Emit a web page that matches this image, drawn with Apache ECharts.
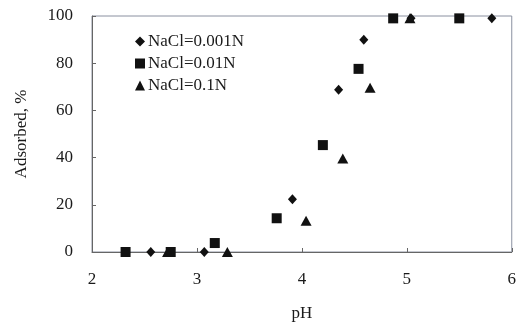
<!DOCTYPE html>
<html><head><meta charset="utf-8">
<script src="https://cdn.jsdelivr.net/npm/echarts@6/dist/echarts.min.js"></script>
<style>html,body{margin:0;padding:0;background:#fff}#c{width:519px;height:327px}</style>
</head><body><div id="c"></div>
<script>
const seriesNames = ['NaCl=0.001N', 'NaCl=0.01N', 'NaCl=0.1N'];
const ph001 = [2.56, 3.07, 3.91, 4.35, 4.59, 5.04, 5.81];
const ads001 = [0, 0, 22.4, 68.8, 89.9, 99, 99];
const ph01 = [2.32, 2.75, 3.17, 3.76, 4.20, 4.54, 4.87, 5.50];
const ads01 = [0, 0, 3.8, 14.3, 45.3, 77.6, 99, 99];
const ph1 = [2.72, 3.29, 4.04, 4.39, 4.65, 5.03];
const ads1 = [0, 0, 13.2, 39.6, 69.6, 99];
const xTicks = [2, 3, 4, 5, 6];
const yTicks = [0, 20, 40, 60, 80, 100];

const pair = (xs, ys) => xs.map((x, i) => [x, ys[i]]);
const font = '"Liberation Serif", "Times New Roman", serif';
const black = '#111';
const symbols = ['diamond', 'rect', 'triangle'];
const sizes = [[9, 10], [10, 10], [11, 10]];
const datas = [pair(ph001, ads001), pair(ph01, ads01), pair(ph1, ads1)];

const chart = echarts.init(document.getElementById('c'), null, {renderer: 'canvas'});
chart.setOption({
  animation: false,
  backgroundColor: '#fff',
  grid: {left: 92, right: 2, top: 16, bottom: 74, show: true, borderColor: '#8a90a0', borderWidth: 1},
  legend: {
    orient: 'vertical', left: 130, top: 28, itemWidth: 10, itemHeight: 10, itemGap: 5,
    textStyle: {fontFamily: font, fontSize: 17, color: '#1a1a1a', lineHeight: 16, padding: [0, 0, 0, -2]},
    data: seriesNames.map((n, i) => ({name: n, icon: symbols[i]}))
  },
  xAxis: {
    type: 'value', min: xTicks[0], max: xTicks[xTicks.length - 1], interval: 1,
    name: 'pH', nameLocation: 'middle', nameGap: 53,
    nameTextStyle: {fontFamily: font, fontSize: 17, color: '#1a1a1a'},
    axisLine: {show: true, lineStyle: {color: '#666', width: 1}},
    axisTick: {show: true, inside: true, length: 4, lineStyle: {color: '#666'}},
    axisLabel: {fontFamily: font, fontSize: 17, color: '#1a1a1a', margin: 19,
      alignMinLabel: 'center', alignMaxLabel: 'center', showMinLabel: true, showMaxLabel: true},
    splitLine: {show: false}
  },
  yAxis: {
    type: 'value', min: yTicks[0], max: yTicks[yTicks.length - 1], interval: 20,
    name: 'Adsorbed, %', nameLocation: 'middle', nameGap: 62, nameRotate: 90,
    nameTextStyle: {fontFamily: font, fontSize: 17, color: '#1a1a1a'},
    axisLine: {show: true, lineStyle: {color: '#666', width: 1}},
    axisTick: {show: true, inside: true, length: 4, lineStyle: {color: '#666'}},
    axisLabel: {fontFamily: font, fontSize: 17, color: '#1a1a1a', margin: 19},
    splitLine: {show: false}
  },
  series: seriesNames.map((n, i) => ({
    name: n, type: 'scatter', symbol: symbols[i], symbolSize: sizes[i],
    itemStyle: {color: black, opacity: 1}, clip: false,
    data: datas[i]
  }))
});
</script></body></html>
